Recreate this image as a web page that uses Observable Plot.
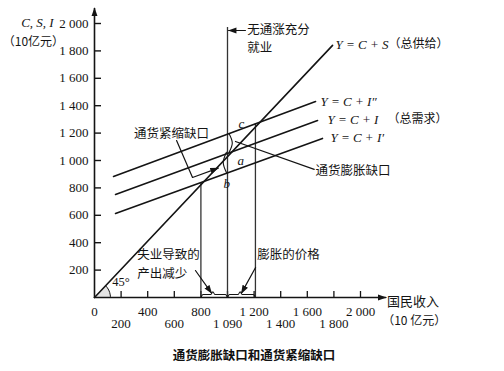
<!DOCTYPE html>
<html><head><meta charset="utf-8">
<script src="https://cdn.jsdelivr.net/npm/d3@7"></script>
<script src="https://cdn.jsdelivr.net/npm/@observablehq/plot@0.6"></script>
<style>
html,body{margin:0;padding:0;background:#fff;}
#chart svg{display:block;overflow:visible;}
#title{height:33px;line-height:33px;width:504px;text-align:center;font-family:"Noto Sans CJK SC";font-weight:bold;font-size:12.5px;color:#111;padding-left:4px;box-sizing:border-box;}
</style></head>
<body><div id="chart"></div><div id="title">通货膨胀缺口和通货紧缩缺口</div>
<script>
// ---- data ----
const yTicks = [200, 400, 600, 800, 1000, 1200, 1400, 1600, 1800, 2000];
const yTickLabels = ["200", "400", "600", "800", "1 000", "1 200", "1 400", "1 600", "1 800", "2 000"];
const xTicks = [200, 400, 600, 800, 1000, 1200, 1400, 1600, 1800, 2000];
const xTicksRow1 = [0, 400, 800, 1200, 1600, 2000];
const xLabelsRow1 = ["0", "400", "800", "1 200", "1 600", "2 000"];
const xTicksRow2 = [200, 600, 1000, 1400, 1800];
const xLabelsRow2 = ["200", "600", "1 090", "1 400", "1 800"];

// aggregate supply (45° line)
const supplyX = [0, 1790];
const supplyY = [0, 1840];
// aggregate demand lines
const demandHighX = [143, 1662];   // Y = C + I''
const demandHighY = [883, 1431];
const demandMidX = [158, 1677];    // Y = C + I
const demandMidY = [752, 1292];
const demandLowX = [158, 1714];    // Y = C + I'
const demandLowY = [613, 1161];
// vertical income lines
const vertX = [800, 1000, 1210];
const vertTop = [839, 1970, 1268];
// axes extent
const xAxisX = [0, 2190], xAxisY = [0, 0];
const yAxisX = [0, 0], yAxisY = [0, 2110];
// 45° angle arc
const arcAngles = [0, 9, 18, 27, 36, 45];
const arcR = 120;
// annotation leaders
const deflLeaderX = [617, 737, 930], deflLeaderY = [1146, 876, 944];
const inflLeaderX = [1652, 1060], inflLeaderY = [935, 1139];
const unempLeaderX = [759, 880], unempLeaderY = [197, 32];
const priceLeaderX = [1211, 1105], priceLeaderY = [219, 32];
const fullEmpArrowX = [1135, 1008], fullEmpArrowY = [1949, 1949];
// gap brackets
const deflBraceX = [992, 968, 992], deflBraceY = [1060, 985, 912];
const inflBraceX = [1012, 1036, 1012], inflBraceY = [1195, 1128, 1060];
// bottom braces
const braceLX = [800, 815, 875, 890, 905, 985, 1000], braceLY = [0, 22, 22, 42, 22, 22, 0];
const braceRX = [1000, 1015, 1080, 1095, 1110, 1195, 1210], braceRY = [0, 22, 22, 42, 22, 22, 0];

// ---- helpers ----
const ns = "http://www.w3.org/2000/svg";
function tri(color) {
  const m = document.createElementNS(ns, "marker");
  m.setAttribute("viewBox", "0 -4 10 8");
  m.setAttribute("markerWidth", "9");
  m.setAttribute("markerHeight", "7");
  m.setAttribute("refX", "9");
  m.setAttribute("refY", "0");
  m.setAttribute("orient", "auto");
  m.setAttribute("markerUnits", "userSpaceOnUse");
  m.setAttribute("fill", color);
  m.setAttribute("stroke", "none");
  const p = document.createElementNS(ns, "path");
  p.setAttribute("d", "M0,-3.5L10,0L0,3.5Z");
  m.appendChild(p);
  return m;
}
const ink = "#141414";
const serif = "Liberation Serif";
const cjk = "Noto Sans CJK SC";
const wedgeX = [0, ...arcAngles.map(a => arcR * Math.cos(a * Math.PI / 180))];
const wedgeY = [0, ...arcAngles.map(a => arcR * Math.sin(a * Math.PI / 180))];
const arcX = arcAngles.map(a => arcR * Math.cos(a * Math.PI / 180));
const arcY = arcAngles.map(a => arcR * Math.sin(a * Math.PI / 180));

function T(str, x, y, opts = {}) {
  return Plot.text([str], {x: [x], y: [y], text: [str], fill: ink, fontFamily: cjk, fontSize: 13, textAnchor: "start", ...opts});
}

const chart = Plot.plot({
  width: 504, height: 338,
  marginLeft: 94, marginRight: 144, marginTop: 23, marginBottom: 41,
  x: {domain: [0, 2000]},
  y: {domain: [0, 2000]},
  style: {fontFamily: serif, fontSize: "13px", color: ink, background: "white", overflow: "visible"},
  marks: [
    // 45° wedge
    Plot.line(wedgeX, {x: wedgeX, y: wedgeY, fill: "#e4e4e4", stroke: "none", curve: "linear"}),
    Plot.line(arcX, {x: arcX, y: arcY, stroke: ink, strokeWidth: 1, curve: "natural"}),
    // axes
    Plot.line(xAxisX, {x: xAxisX, y: xAxisY, stroke: ink, strokeWidth: 1.6, markerEnd: tri}),
    Plot.line(yAxisX, {x: yAxisX, y: yAxisY, stroke: ink, strokeWidth: 1.6, markerEnd: tri}),
    Plot.axisY({ticks: yTicks, tickSize: -7, tickPadding: 13, strokeWidth: 1.4, tickFormat: d => yTickLabels[yTicks.indexOf(d)], label: null, fill: ink}),
    Plot.axisX({ticks: xTicks, tickSize: -6, strokeWidth: 1.3, tickFormat: () => "", label: null}),
    Plot.axisX({ticks: xTicksRow1, tickSize: 0, tickPadding: 9, tickFormat: d => xLabelsRow1[xTicksRow1.indexOf(d)], label: null, fill: ink}),
    Plot.axisX({ticks: xTicksRow2, tickSize: 0, tickPadding: 21, tickFormat: d => xLabelsRow2[xTicksRow2.indexOf(d)], label: null, fill: ink}),
    // vertical income lines
    Plot.ruleX(vertX, {x: vertX, y1: vertX.map(() => 0), y2: vertTop, stroke: "#333", strokeWidth: 1.3}),
    // supply and demand lines
    Plot.line(supplyX, {x: supplyX, y: supplyY, stroke: ink, strokeWidth: 1.6}),
    Plot.line(demandHighX, {x: demandHighX, y: demandHighY, stroke: ink, strokeWidth: 1.6}),
    Plot.line(demandMidX, {x: demandMidX, y: demandMidY, stroke: ink, strokeWidth: 1.6}),
    Plot.line(demandLowX, {x: demandLowX, y: demandLowY, stroke: ink, strokeWidth: 1.6}),
    // leaders
    Plot.line(deflLeaderX, {x: deflLeaderX, y: deflLeaderY, stroke: ink, strokeWidth: 1.2, markerEnd: tri}),
    Plot.line(inflLeaderX, {x: inflLeaderX, y: inflLeaderY, stroke: ink, strokeWidth: 1.2}),
    Plot.line(unempLeaderX, {x: unempLeaderX, y: unempLeaderY, stroke: ink, strokeWidth: 1.2, markerEnd: tri}),
    Plot.line(priceLeaderX, {x: priceLeaderX, y: priceLeaderY, stroke: ink, strokeWidth: 1.2, markerEnd: tri}),
    Plot.line(fullEmpArrowX, {x: fullEmpArrowX, y: fullEmpArrowY, stroke: ink, strokeWidth: 1.2, markerEnd: tri}),
    // brackets
    Plot.line(deflBraceX, {x: deflBraceX, y: deflBraceY, stroke: ink, strokeWidth: 1.1, curve: "natural"}),
    Plot.line(inflBraceX, {x: inflBraceX, y: inflBraceY, stroke: ink, strokeWidth: 1.1, curve: "natural"}),
    Plot.line(braceLX, {x: braceLX, y: braceLY, stroke: ink, strokeWidth: 1.1, curve: "monotone-x"}),
    Plot.line(braceRX, {x: braceRX, y: braceRY, stroke: ink, strokeWidth: 1.1, curve: "monotone-x"}),
    // texts
    T("C, S, I", -429, 2007, {fontFamily: serif, fontStyle: "italic", textAnchor: "middle", fontSize: 13}),
    T("（10亿元）", -459, 1861, {textAnchor: "middle", fontSize: 12}),
    T("Y = C + S", 1812, 1847, {fontFamily: serif, fontStyle: "italic", fontSize: 13}),
    T("（总供给）", 2211, 1847, {fontSize: 12}),
    T("Y = C + I″", 1699, 1431, {fontFamily: serif, fontStyle: "italic", fontSize: 13}),
    T("Y = C + I", 1752, 1299, {fontFamily: serif, fontStyle: "italic", fontSize: 13}),
    T("（总需求）", 2203, 1303, {fontSize: 12}),
    T("Y = C + I′", 1774, 1168, {fontFamily: serif, fontStyle: "italic", fontSize: 13}),
    T("通货膨胀缺口", 1662, 927, {fontSize: 12.5}),
    T("通货紧缩缺口", 579, 1197, {fontSize: 12.5, textAnchor: "middle"}),
    T("无通涨充分", 1148, 1949, {fontSize: 12.5}),
    T("就业", 1148, 1818, {fontSize: 12.5}),
    T("c", 1083, 1270, {fontFamily: serif, fontStyle: "italic"}),
    T("a", 1075, 1000, {fontFamily: serif, fontStyle: "italic"}),
    T("b", 970, 832, {fontFamily: serif, fontStyle: "italic"}),
    T("失业导致的", 321, 307, {fontSize: 12.5}),
    T("产出减少", 321, 175, {fontSize: 12.5}),
    T("膨胀的价格", 1223, 307, {fontSize: 12.5}),
    T("45°", 133, 112, {fontFamily: serif, fontSize: 12.5}),
    T("国民收入", 2200, -34, {fontSize: 13}),
    T("（10 亿元）", 2163, -173, {fontSize: 12})
  ]
});
document.getElementById("chart").appendChild(chart);
</script>
</body></html>
